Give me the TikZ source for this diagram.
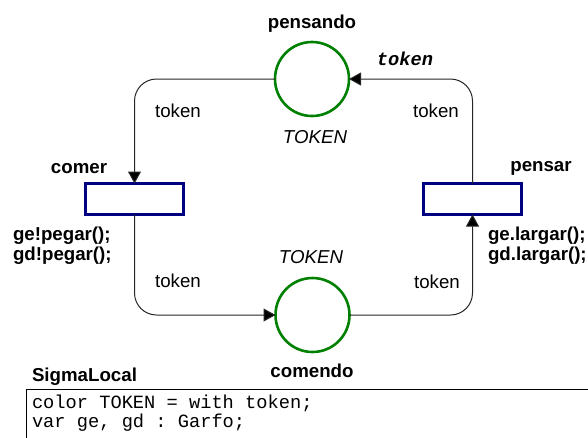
\documentclass[tikz,border=0pt]{standalone}
\usepackage{fontspec}
\setmainfont{Liberation Sans}
\setmonofont{Liberation Mono}
\usetikzlibrary{arrows.meta}
\definecolor{placegreen}{RGB}{0,128,0}
\definecolor{transblue}{RGB}{0,0,128}
\begin{document}
\begin{tikzpicture}[x=1pt,y=-1pt,
  every node/.style={inner sep=0pt,outer sep=0pt,font=\fontsize{18.7}{21}\selectfont},
  place/.style={circle,draw=placegreen,line width=2.6pt,minimum size=74pt},
  transition/.style={rectangle,draw=transblue,line width=2.8pt,minimum width=98pt,minimum height=31pt},
  arc/.style={draw=black!85,line width=1pt,rounded corners=22pt,-{Triangle[length=12pt,width=13pt,fill=black]}},
  lbl/.style={anchor=base},
  lblb/.style={anchor=base,font=\fontsize{18.7}{21}\selectfont\bfseries},
  code/.style={anchor=base west,font=\fontsize{18.7}{21}\selectfont\ttfamily}]
\useasboundingbox (0,0) rectangle (588,437);

% places and transitions
\node[place] (pensando) at (312,79) {};
\node[place] (comendo) at (312.5,315) {};
\node[transition] (comer) at (134.5,199) {};
\node[transition] (pensar) at (472.5,199) {};

% arcs
\draw[arc] (pensando.west) -| (comer.north);
\draw[arc] (comer.south) |- (comendo.west);
\draw[arc] (comendo.east) -| (pensar.south);
\draw[arc] (pensar.north) |- (pensando.east);

% names of places and transitions
\node[lblb] (tpensando) at (312,28) {pensando};
\node[lblb] (tcomendo) at (312,377) {comendo};
\node[lblb] (tcomer) at (79,173) {comer};
\node[lblb] (tpensar) at (541,171) {pensar};

% colour sets and initial marking
\node[lbl,font=\fontsize{18.7}{21}\selectfont\itshape] (cs1) at (315,143.5) {TOKEN};
\node[lbl,font=\fontsize{18.7}{21}\selectfont\itshape] (cs2) at (311,263) {TOKEN};
\node[lbl,font=\fontsize{18.7}{21}\selectfont\ttfamily\bfseries\itshape] (mark) at (405,65) {token};

% arc inscriptions
\node[lbl] (a1) at (178,117) {token};
\node[lbl] (a2) at (178,287) {token};
\node[lbl] (a3) at (437,288) {token};
\node[lbl] (a4) at (436,117) {token};

% transition code
\node[lblb,anchor=base west] (g1) at (13,240.5) {ge!pegar();};
\node[lblb,anchor=base west] (g2) at (13,260.5) {gd!pegar();};
\node[lblb,anchor=base west] (g3) at (488,240.5) {ge.largar();};
\node[lblb,anchor=base west] (g4) at (488,260.5) {gd.largar();};

% local declarations
\node[lblb,anchor=base west] (sigma) at (32,381) {SigmaLocal};
\draw[line width=1pt] (600,389.5) -- (26,389.5) -- (26,450);
\node[code] (d1) at (32,408) {color TOKEN = with token;};
\node[code] (d2) at (32,427) {var ge, gd : Garfo;};
\end{tikzpicture}
\end{document}
